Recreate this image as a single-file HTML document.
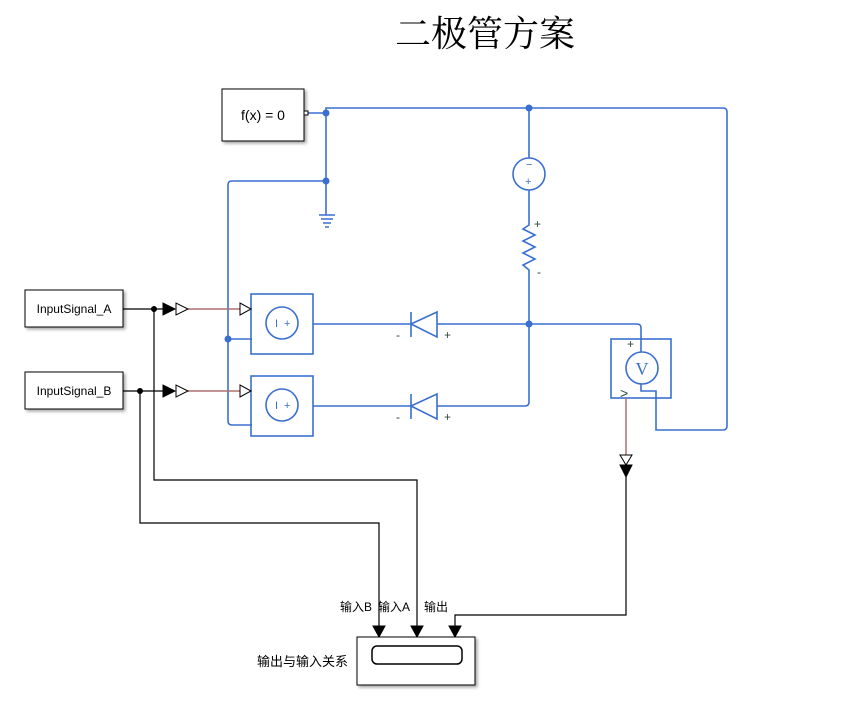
<!DOCTYPE html>
<html><head><meta charset="utf-8"><style>body{margin:0;background:#fff}svg{display:block}</style></head><body>
<svg width="867" height="706" viewBox="0 0 867 706" xmlns="http://www.w3.org/2000/svg">
<defs><filter id="sh" x="-10%" y="-10%" width="130%" height="130%"><feDropShadow dx="2" dy="2" stdDeviation="1.5" flood-color="#000" flood-opacity="0.35"/></filter></defs>
<text x="485" y="46" font-family="'Noto Serif CJK SC',serif" font-size="36" text-anchor="middle">二极管方案</text>
<g fill="none" stroke="#3a6fd0" stroke-width="1.6">
<path d="M306 113H326M326 113V108H529M529 108H723Q727 108 727 112V426Q727 430 723 430H656V391H641V384"/>
<path d="M326 113V215"/>
<path d="M319 215H335M321 219H333M323 223H331M325 227H329"/>
<path d="M326 181H232Q228 181 228 185V421Q228 425 232 425H252M228 339H252"/>
<rect x="251" y="294" width="62" height="60"/><rect x="251" y="376" width="62" height="60"/>
<circle cx="282" cy="323" r="16"/><circle cx="282" cy="405" r="16"/>
<path d="M313 324H411M437 324H529M313 406H411M437 406H525Q529 406 529 402V324"/>
<path d="M411 312V337M437 312V337L411 324Z"/><path d="M411 394V419M437 394V419L411 406Z"/>
<path d="M529 108V158M529 190V225L523 229L535 235L523 241L535 247L523 253L535 259L523 265L529 270V324"/>
<circle cx="529" cy="174" r="16"/>
<path d="M529 324H637Q641 324 641 328V352"/>
<rect x="611" y="339" width="60" height="59"/><circle cx="642" cy="368" r="16"/>
</g>
<g fill="#3a6fd0"><circle cx="326" cy="113" r="3.5"/><circle cx="326" cy="181" r="3.5"/><circle cx="228" cy="339" r="3.5"/><circle cx="529" cy="108" r="3.5"/><circle cx="529" cy="324" r="3.5"/></g>
<g font-family="'Liberation Sans',sans-serif" font-size="12" fill="#2a4a3a">
<text x="396" y="339">-</text><text x="444" y="339">+</text><text x="396" y="421">-</text><text x="444" y="421">+</text>
<text x="534" y="228">+</text><text x="537" y="276">-</text><text x="627" y="348">+</text><text x="620" y="398" font-size="14">&gt;</text>
</g>
<g font-family="'Liberation Sans',sans-serif" font-size="11" fill="#3a6fd0"><text x="526" y="168">−</text><text x="525" y="185">+</text>
<text x="275" y="327">I</text><text x="284" y="327">+</text><text x="275" y="409">I</text><text x="284" y="409">+</text></g>
<text x="642" y="375" font-family="'Liberation Serif',serif" font-size="18" fill="#3a6fd0" text-anchor="middle">V</text>
<g stroke="#b07070" stroke-width="1.5"><path d="M188 309H240M188 391H240M626 398V455"/></g>
<g fill="none" stroke="#000" stroke-width="1.2">
<path d="M123 309H163M123 391H163M154 309V480H417V630M140 391V523H379V630M626 477V615H455V630"/>
</g>
<g stroke="#000" stroke-width="1">
<path d="M163 303V315L175 309Z" fill="#000"/><path d="M176 303V315L188 309Z" fill="#fff"/>
<path d="M163 385V397L175 391Z" fill="#000"/><path d="M176 385V397L188 391Z" fill="#fff"/>
<path d="M240 303V315L251 309Z" fill="#fff"/><path d="M240 385V397L251 391Z" fill="#fff"/>
<path d="M620 455H632L626 465Z" fill="#fff"/><path d="M620 465H632L626 477Z" fill="#000"/>
<path d="M373 626H385L379 637Z" fill="#000"/><path d="M411 626H423L417 637Z" fill="#000"/><path d="M449 626H461L455 637Z" fill="#000"/>
</g>
<circle cx="154" cy="309" r="3" fill="#000"/><circle cx="140" cy="391" r="3" fill="#000"/>
<g fill="#fff" stroke="#000" stroke-width="1" filter="url(#sh)">
<rect x="222" y="89" width="82" height="52"/><rect x="25" y="290" width="98" height="37"/><rect x="25" y="372" width="98" height="37"/><rect x="357" y="637" width="118" height="48"/>
</g>
<rect x="304" y="111" width="4" height="4" fill="#fff" stroke="#000" stroke-width="1"/>
<rect x="372" y="646" width="90" height="18" rx="5" fill="none" stroke="#000" stroke-width="1.5"/>
<g font-family="'Liberation Sans','Noto Sans CJK SC',sans-serif" fill="#000">
<text x="263" y="120" font-size="14" text-anchor="middle">f(x) = 0</text>
<text x="74" y="313" font-size="12" text-anchor="middle">InputSignal_A</text>
<text x="74" y="395" font-size="12" text-anchor="middle">InputSignal_B</text>
<text x="340" y="611" font-size="12">输入B</text><text x="378" y="611" font-size="12">输入A</text><text x="424" y="611" font-size="12">输出</text>
<text x="348" y="666" font-size="13" text-anchor="end">输出与输入关系</text>
</g>
</svg>
</body></html>
